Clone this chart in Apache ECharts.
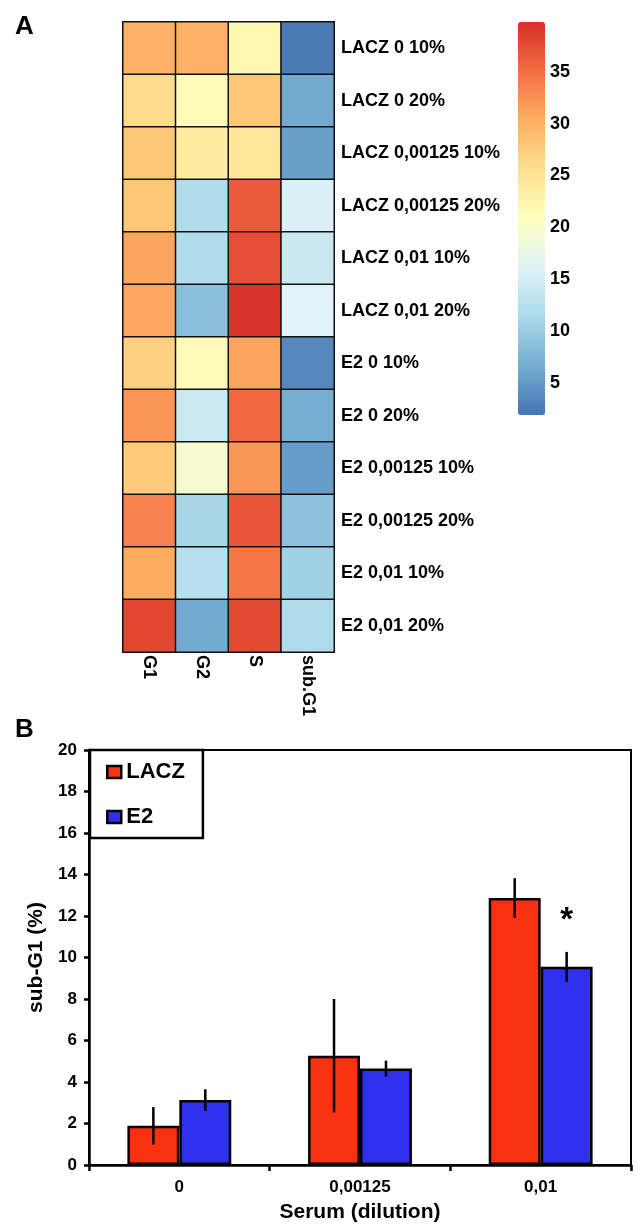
<!DOCTYPE html>
<html>
<head>
<meta charset="utf-8">
<script src="https://cdn.jsdelivr.net/npm/echarts@6/dist/echarts.min.js"></script>
<style>
html,body{margin:0;padding:0;background:#fff;}
#chart{width:638px;height:1227px;}
</style>
</head>
<body>
<div id="chart"></div>
<script>
// ---- Panel A: heatmap data ----
const heatRows = ['LACZ 0 10%','LACZ 0 20%','LACZ 0,00125 10%','LACZ 0,00125 20%','LACZ 0,01 10%','LACZ 0,01 20%',
                  'E2 0 10%','E2 0 20%','E2 0,00125 10%','E2 0,00125 20%','E2 0,01 10%','E2 0,01 20%'];
const heatCols = ['G1','G2','S','sub.G1'];
const g1Values   = [30.0, 26.0, 28.0, 28.0, 31.0, 30.7, 27.0, 32.0, 27.7, 33.5, 30.5, 38.0];
const g2Values   = [30.0, 21.5, 24.0, 12.0, 11.8,  8.5, 21.5, 14.3, 19.5, 11.0, 12.5,  6.5];
const sValues    = [22.0, 28.0, 24.5, 36.5, 37.5, 39.5, 31.0, 35.5, 32.0, 37.0, 34.3, 37.8];
const subG1Values= [ 2.5,  6.5,  5.5, 15.5, 14.0, 16.0,  3.5,  6.8,  5.3,  9.0, 10.5, 11.8];
const colorMin = 1.9, colorMax = 39.8;
const colorTicks = [5, 10, 15, 20, 25, 30, 35];

// ---- Panel B: bar chart data ----
const serumCats = ['0', '0,00125', '0,01'];
const laczMeans = [1.89, 5.27, 12.87];
const laczErr   = [0.90, 2.73, 0.95];
const e2Means   = [3.13, 4.65, 9.55];
const e2Err     = [0.52, 0.38, 0.72];
const e2Sig     = ['', '', '*'];

const FONT = '"Liberation Sans", Arial, Helvetica, sans-serif';

const heatColsValues = [g1Values, g2Values, sValues, subG1Values];
const heatData = [];
heatColsValues.forEach((arr, c) => arr.forEach((v, r) => heatData.push([c, r, v])));

const BAR_CAT_GAP = 0.425;
function errRender(side) {
  return function (params, api) {
    const ci = api.value(0), m = api.value(1), e = api.value(2);
    const band = api.size([1, 0])[0];
    const bw = band * (1 - BAR_CAT_GAP) / 2;
    const off = side * bw / 2;
    const top = api.coord([ci, m + e]);
    const bot = api.coord([ci, m - e]);
    return {
      type: 'line',
      shape: { x1: top[0] + off, y1: top[1], x2: top[0] + off, y2: bot[1] },
      style: { stroke: '#000', lineWidth: 2.5 }
    };
  };
}

const chart = echarts.init(document.getElementById('chart'), null, { renderer: 'canvas' });
const option = {
  animation: false,
  backgroundColor: '#fff',
  textStyle: { fontFamily: FONT, color: '#000' },
  title: [
    { text: 'A', left: 10, top: 9, padding: 5, textStyle: { fontSize: 26, fontWeight: 'bold', color: '#000', fontFamily: FONT } },
    { text: 'B', left: 10, top: 712, padding: 5, textStyle: { fontSize: 26, fontWeight: 'bold', color: '#000', fontFamily: FONT } }
  ],
  grid: [
    { left: 123, top: 22, width: 211, height: 630, show: false },
    { left: 89, top: 750, width: 542, height: 415, show: true, borderColor: '#000', borderWidth: 2 },
    { left: 518, top: 22, width: 27, height: 393 * colorMax / (colorMax - colorMin), show: false }
  ],
  xAxis: [
    {
      gridIndex: 0, type: 'category', data: heatCols, position: 'bottom',
      axisLine: { show: false }, axisTick: { show: false }, splitArea: { show: false },
      axisLabel: { rotate: -90, margin: 3, fontSize: 18, fontWeight: 'bold', color: '#000', fontFamily: FONT }
    },
    {
      gridIndex: 1, type: 'category', data: serumCats,
      axisLine: { lineStyle: { color: '#000', width: 2.5 } },
      axisTick: { show: true, length: 6, lineStyle: { color: '#000', width: 2.5 } },
      axisLabel: { margin: 14, fontSize: 17, fontWeight: 'bold', color: '#000', fontFamily: FONT },
      name: 'Serum (dilution)', nameLocation: 'middle', nameGap: 37,
      nameTextStyle: { fontSize: 21, fontWeight: 'bold', color: '#000', fontFamily: FONT }
    },
    { gridIndex: 2, type: 'value', show: false }
  ],
  yAxis: [
    {
      gridIndex: 0, type: 'category', data: heatRows, inverse: true, position: 'right',
      axisLine: { show: false }, axisTick: { show: false }, splitArea: { show: false },
      axisLabel: { margin: 7, fontSize: 18, fontWeight: 'bold', color: '#000', fontFamily: FONT }
    },
    {
      gridIndex: 1, type: 'value', min: 0, max: 20, interval: 2,
      axisLine: { show: true, lineStyle: { color: '#000', width: 2.5 } },
      axisTick: { show: true, length: 5, lineStyle: { color: '#000', width: 2.5 } },
      splitLine: { show: false },
      axisLabel: { margin: 12, fontSize: 17, fontWeight: 'bold', color: '#000', fontFamily: FONT },
      name: 'sub-G1 (%)', nameLocation: 'middle', nameGap: 30,
      nameTextStyle: { fontSize: 21, fontWeight: 'bold', color: '#000', fontFamily: FONT }
    },
    {
      gridIndex: 2, type: 'value', position: 'right', min: 0, max: colorMax, interval: 5,
      axisLine: { show: false }, axisTick: { show: false }, splitLine: { show: false },
      axisLabel: {
        margin: 5, fontSize: 18, fontWeight: 'bold', color: '#000', fontFamily: FONT,
        formatter: v => (colorTicks.indexOf(v) >= 0 ? String(v) : '')
      }
    }
  ],
  visualMap: {
    type: 'continuous', seriesIndex: 0, min: colorMin, max: colorMax,
    left: 518, top: 22, itemWidth: 27, itemHeight: 393, padding: 0,
    calculable: false, showLabel: false, text: null, hoverLink: false,
    inRange: { color: ['#4575b4','#74add1','#abd9e9','#e0f3f8','#ffffbf','#fee090','#fdae61','#f46d43','#d73027'] }
  },
  legend: {
    data: ['LACZ', 'E2'], orient: 'vertical', left: 90, top: 750,
    itemWidth: 14, itemHeight: 12, itemGap: 23,
    padding: [11, 18, 10, 16], borderColor: '#000', borderWidth: 2.5,
    icon: 'rect',
    textStyle: { fontSize: 22, fontWeight: 'bold', color: '#000', fontFamily: FONT },
    itemStyle: { borderColor: '#000', borderWidth: 2.5 }
  },
  series: [
    {
      type: 'heatmap', xAxisIndex: 0, yAxisIndex: 0, data: heatData,
      itemStyle: { borderColor: '#111', borderWidth: 1.5 },
      emphasis: { disabled: true }
    },
    {
      name: 'LACZ', type: 'bar', xAxisIndex: 1, yAxisIndex: 1, data: laczMeans,
      barGap: '0%', barCategoryGap: (BAR_CAT_GAP * 100) + '%',
      itemStyle: { color: '#f93111', borderColor: '#000', borderWidth: 2.5 }
    },
    {
      name: 'E2', type: 'bar', xAxisIndex: 1, yAxisIndex: 1,
      data: e2Means.map((v, i) => ({
        value: v,
        label: {
          show: e2Sig[i] !== '', position: 'top', distance: 29,
          formatter: () => e2Sig[i], fontSize: 33, fontWeight: 'bold', color: '#000', fontFamily: FONT
        }
      })),
      barGap: '0%', barCategoryGap: (BAR_CAT_GAP * 100) + '%',
      itemStyle: { color: '#2f2ff0', borderColor: '#000', borderWidth: 2.5 }
    },
    {
      type: 'custom', xAxisIndex: 1, yAxisIndex: 1, renderItem: errRender(-1),
      data: laczMeans.map((m, i) => [i, m, laczErr[i]]), z: 10, silent: true
    },
    {
      type: 'custom', xAxisIndex: 1, yAxisIndex: 1, renderItem: errRender(1),
      data: e2Means.map((m, i) => [i, m, e2Err[i]]), z: 10, silent: true
    }
  ]
};
chart.setOption(option);
</script>
</body>
</html>
